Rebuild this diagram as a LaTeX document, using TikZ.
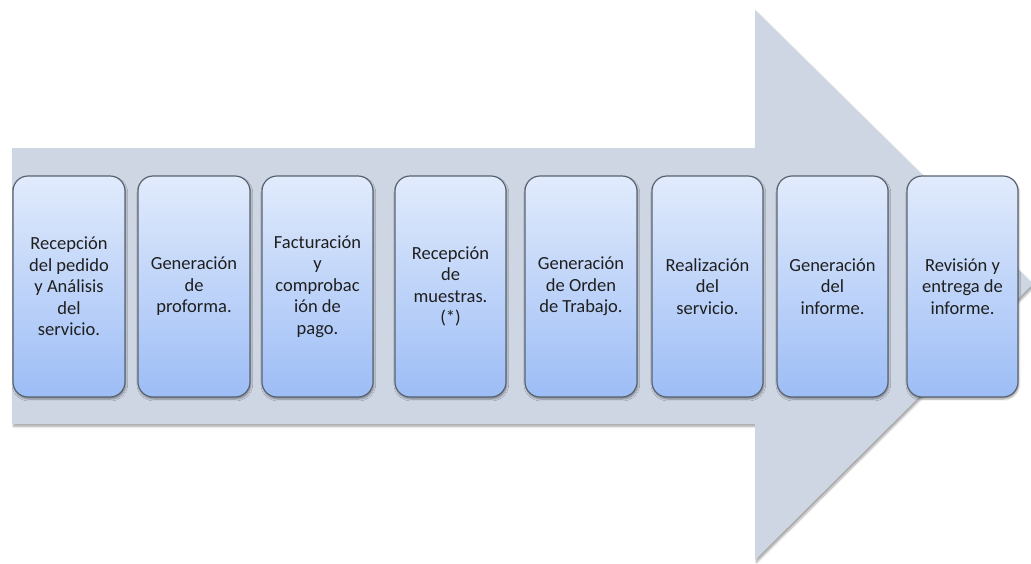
\documentclass[tikz,border=0pt]{standalone}
\usepackage{fontspec}
\setmainfont{Carlito}
\usetikzlibrary{shadows.blur}
\definecolor{arrowfill}{HTML}{CED6E4}
\definecolor{boxtop}{HTML}{E1EBFC}
\definecolor{boxbottom}{HTML}{9DBDF6}
\definecolor{boxline}{HTML}{59626F}
\definecolor{stepink}{HTML}{1F1F1F}
\begin{document}
\begin{tikzpicture}[x=1pt,y=-1pt,
  bigarrow/.style={fill=arrowfill, draw=none,
    blur shadow={shadow xshift=1.5pt, shadow yshift=-2.5pt, shadow blur steps=6, shadow opacity=35}},
  stepbox/.style={rectangle, rounded corners=15pt, draw=boxline, line width=1.2pt,
    top color=boxtop, bottom color=boxbottom,
    minimum height=221pt, inner sep=0pt, align=center, text=stepink,
    font=\fontsize{18.5}{21.5}\selectfont,
    blur shadow={shadow xshift=0.8pt, shadow yshift=-2pt, shadow blur steps=5, shadow opacity=40}},
]
\useasboundingbox (0,0) rectangle (1031,563);
\begin{scope}
\clip (0,0) rectangle (1031,563);
% block arrow behind the steps
\path[bigarrow] (12,148) -- (755,148) -- (755,10) -- (1033,284) -- (755,560)
  -- (755,424) -- (12,424) -- cycle;
\end{scope}
% process steps
\node[stepbox, minimum width=112pt] (s1) at (69,286.5) {Recepción\\del pedido\\y Análisis\\del\\servicio.};
\node[stepbox, minimum width=112pt] (s2) at (194,286.5) {Generación\\de\\proforma.};
\node[stepbox, minimum width=111pt] (s3) at (317.5,286.5) {Facturación\\y\\comprobac\\ión de\\pago.};
\node[stepbox, minimum width=111pt] (s4) at (450.5,286.5) {Recepción\\de\\muestras.\\(*)};
\node[stepbox, minimum width=112pt] (s5) at (581,286.5) {Generación\\de Orden\\de Trabajo.};
\node[stepbox, minimum width=111pt] (s6) at (707.5,286.5) {Realización\\del\\servicio.};
\node[stepbox, minimum width=111pt] (s7) at (832.5,286.5) {Generación\\del\\informe.};
\node[stepbox, minimum width=111pt] (s8) at (962.5,286.5) {Revisión y\\entrega de\\informe.};
\end{tikzpicture}
\end{document}
